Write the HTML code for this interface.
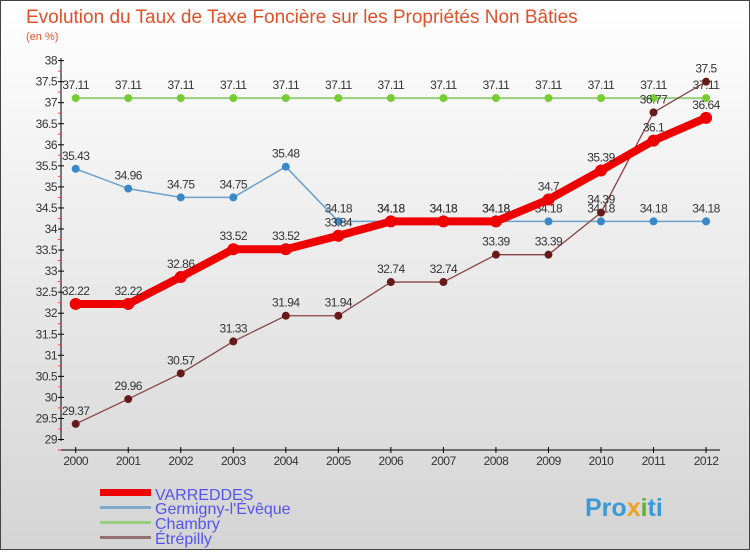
<!DOCTYPE html>
<html><head><meta charset="utf-8"><style>
body{margin:0}
#c{width:750px;height:550px;position:relative;font-family:"Liberation Sans","DejaVu Sans",sans-serif}
</style></head><body>
<div id="c">
<svg id="s" width="750" height="550" xmlns="http://www.w3.org/2000/svg">
<defs><linearGradient id="bg" x1="0" y1="0" x2="0" y2="1"><stop offset="0" stop-color="#ffffff"/><stop offset="1" stop-color="#d4d4d4"/></linearGradient></defs>
<rect x="0.5" y="0.5" width="749" height="549" fill="url(#bg)" stroke="#444"/>
<text x="26" y="23" font-size="19" fill="#e0502a">Evolution du Taux de Taxe Foncière sur les Propriétés Non Bâties</text>
<text x="26" y="40" font-size="11" fill="#e0502a">(en %)</text>
<g id="axes"></g><g id="series"></g>
<g>
<rect x="100" y="489" width="51" height="7" fill="#e00"/>
<text x="155" y="500" font-size="16" fill="#5555ee">VARREDDES</text>
<rect x="100" y="506" width="51" height="3" fill="#80a8c8"/>
<text x="155" y="514" font-size="16" fill="#5555ee">Germigny-l'Évêque</text>
<rect x="100" y="521" width="51" height="3" fill="#99d080"/>
<text x="155" y="529" font-size="16" fill="#5555ee">Chambry</text>
<rect x="100" y="536" width="51" height="3" fill="#907070"/>
<text x="155" y="544" font-size="16" fill="#5555ee">Étrépilly</text>
</g>
<text x="585" y="516" font-size="25" font-weight="bold" fill="#3a9ad8">Pro<tspan fill="#f0a020">x</tspan><tspan fill="#60b030">i</tspan>ti</text>
</svg></div>
<script>
const years=[2000,2001,2002,2003,2004,2005,2006,2007,2008,2009,2010,2011,2012];
const yTicks=[29,29.5,30,30.5,31,31.5,32,32.5,33,33.5,34,34.5,35,35.5,36,36.5,37,37.5,38];
const varreddes=[32.22,32.22,32.86,33.52,33.52,33.84,34.18,34.18,34.18,34.7,35.39,36.1,36.64];
const germigny=[35.43,34.96,34.75,34.75,35.48,34.18,34.18,34.18,34.18,34.18,34.18,34.18,34.18];
const chambry=[37.11,37.11,37.11,37.11,37.11,37.11,37.11,37.11,37.11,37.11,37.11,37.11,37.11];
const etrepilly=[29.37,29.96,30.57,31.33,31.94,31.94,32.74,32.74,33.39,33.39,34.39,36.77,37.5];
const NS="http://www.w3.org/2000/svg";
const xs=i=>75.7+i*52.53;
const ys=v=>439.5-(v-29)*42.1;
function mk(t,a,p){const e=document.createElementNS(NS,t);for(const k in a)e.setAttribute(k,a[k]);p.appendChild(e);return e;}
const ax=document.getElementById('axes');
mk('line',{x1:61,y1:58,x2:61,y2:441,stroke:'#000'},ax);
mk('line',{x1:61,y1:450,x2:720,y2:450,stroke:'#000'},ax);
yTicks.forEach(v=>{
 const y=ys(v);
 mk('line',{x1:58,y1:y,x2:64,y2:y,stroke:'#000'},ax);
 mk('line',{x1:58,y1:y+10.5,x2:61,y2:y+10.5,stroke:'#f44'},ax);
 const t=mk('text',{x:57,y:y+4,'font-size':12,'text-anchor':'end',fill:'#333','letter-spacing':'-0.5'},ax);
 
 
 t.textContent=v;
});
years.forEach((yr,i)=>{
 const x=xs(i);
 mk('line',{x1:x,y1:447,x2:x,y2:453,stroke:'#000'},ax);
 const t=mk('text',{x:x,y:465,'font-size':12,'text-anchor':'middle',fill:'#333','letter-spacing':'-0.5'},ax);
 
 
 t.textContent=yr;
});
const sg=document.getElementById('series');
function series(name,data,color,w,r,fill){
 const g=mk('g',{},sg);
 
 
 mk('polyline',{points:data.map((v,i)=>xs(i)+','+ys(v)).join(' '),fill:'none',stroke:color,'stroke-width':w,'stroke-linejoin':'round'},g);
 data.forEach((v,i)=>{
  const c=mk('circle',{cx:xs(i),cy:ys(v),r:r,fill:fill},g);
  
  
  const t=mk('text',{x:xs(i),y:ys(v)-9,'font-size':12,'text-anchor':'middle',fill:'#333','letter-spacing':'-0.5'},g);
  
  
  t.textContent=v;
 });
}
series('chambry-line',chambry,'#99d080',2,4,'#77cc33');
series('germigny-line',germigny,'#6aa0cc',1.5,4,'#3a88c8');
series('etrepilly-line',etrepilly,'#884444',1.3,4,'#661a1a');
series('varreddes-line',varreddes,'#ee0000',8,6,'#ee0000');
</script>
</body></html>
